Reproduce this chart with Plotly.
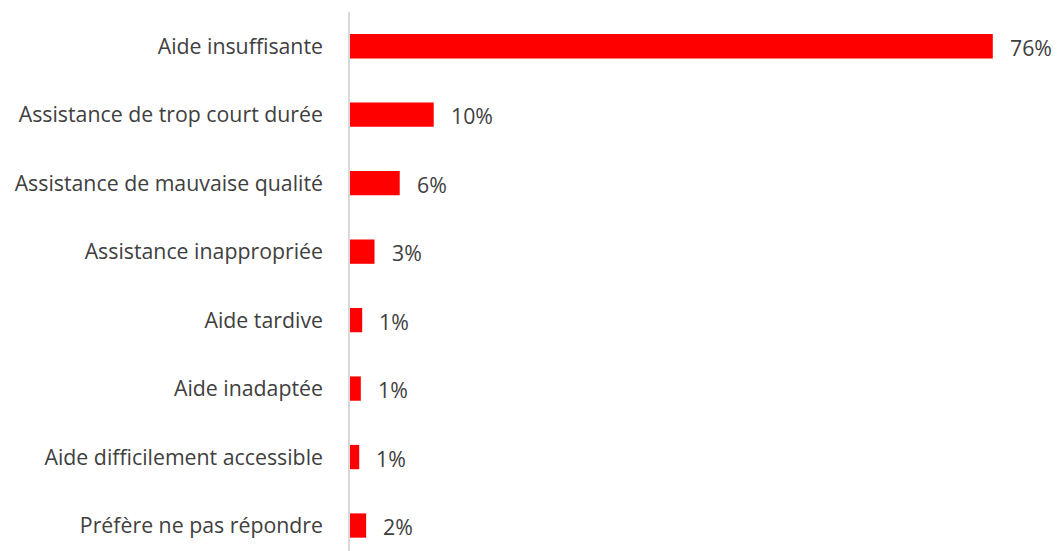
import plotly.graph_objects as go

categories = [
    "Aide insuffisante",
    "Assistance de trop court durée",
    "Assistance de mauvaise qualité",
    "Assistance inappropriée",
    "Aide tardive",
    "Aide inadaptée",
    "Aide difficilement accessible",
    "Préfère ne pas répondre",
]
values = [76.0, 9.9, 5.88, 2.9, 1.44, 1.28, 1.09, 1.91]
value_labels = ["76%", "10%", "6%", "3%", "1%", "1%", "1%", "2%"]

FONT = "Open Sans"
TXT = "#404040"
FS = 21.3

fig = go.Figure()
fig.add_trace(go.Bar(
    y=categories,
    x=values,
    orientation="h",
    marker=dict(color="#FF0000", line=dict(width=0)),
    hoverinfo="skip",
))

for c, v, t in zip(categories, values, value_labels):
    fig.add_annotation(
        x=v, y=c, text=t, xref="x", yref="y",
        xanchor="left", yanchor="middle", xshift=15, yshift=-1, showarrow=False,
        font=dict(family=FONT, size=FS, color=TXT),
    )

fig.update_layout(
    width=1059, height=551,
    margin=dict(l=349.5, r=7, t=12, b=0, pad=0),
    paper_bgcolor="white", plot_bgcolor="white",
    bargap=0.645,
    showlegend=False,
    font=dict(family=FONT, size=FS, color=TXT),
)
fig.update_xaxes(range=[0, 83], showgrid=False, zeroline=False, showticklabels=False,
                 showline=False, fixedrange=True)
fig.update_yaxes(range=[7.372, -0.5], showgrid=False, zeroline=False,
                 showline=True, linecolor="#D9D9D9", linewidth=1.5,
                 ticks="", ticklabelstandoff=21, tickfont=dict(family=FONT, size=FS, color=TXT))

fig.write_html("out.html")
